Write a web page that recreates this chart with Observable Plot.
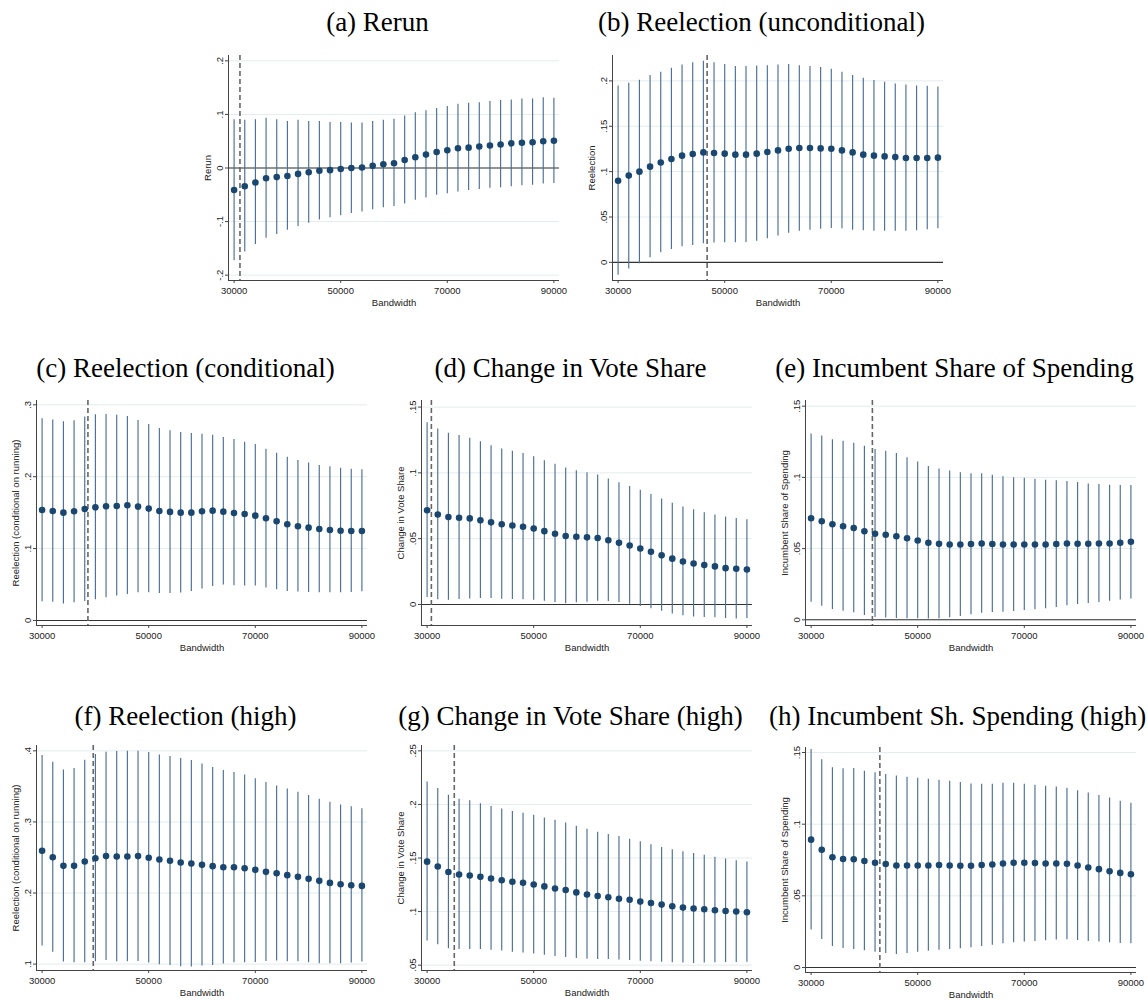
<!DOCTYPE html>
<html><head><meta charset="utf-8">
<script src="https://cdn.jsdelivr.net/npm/d3@7"></script>
<script src="https://cdn.jsdelivr.net/npm/@observablehq/plot@0.6"></script>
<style>
body{margin:0;background:#fff;width:1148px;height:1000px;position:relative;overflow:hidden;}
.panel{position:absolute;width:371px;}
.title{position:absolute;width:371px;font-family:"Liberation Serif","Times New Roman",serif;font-size:27px;text-align:center;height:30px;line-height:30px;color:#000;white-space:nowrap;}
</style></head><body>
<script>
// ---------- data ----------
const bandwidth = [30000,32000,34000,36000,38000,40000,42000,44000,46000,48000,50000,52000,54000,56000,58000,60000,62000,64000,66000,68000,70000,72000,74000,76000,78000,80000,82000,84000,86000,88000,90000];
const xTickValues = [30000, 50000, 70000, 90000];
const xAxisTitle = "Bandwidth";

const panelTitles = ["(a) Rerun","(b) Reelection (unconditional)","(c) Reelection (conditional)","(d) Change in Vote Share","(e) Incumbent Share of Spending","(f) Reelection (high)","(g) Change in Vote Share (high)","(h) Incumbent Sh. Spending (high)"];
const yAxisTitles = ["Rerun","Reelection","Reelection (conditional on running)","Change in Vote Share","Incumbent Share of Spending","Reelection (conditional on running)","Change in Vote Share","Incumbent Share of Spending"];
const optimalBandwidth = [31100, 46700, 38600, 30800, 41500, 39600, 35100, 42900];
const yTickValues = [
  [-0.2,-0.1,0,0.1,0.2],
  [0,0.05,0.1,0.15,0.2],
  [0,0.1,0.2,0.3],
  [0,0.05,0.1,0.15],
  [0,0.05,0.1,0.15],
  [0.1,0.2,0.3,0.4],
  [0.05,0.1,0.15,0.2,0.25],
  [0,0.05,0.1,0.15]
];

const rerunEst = [-0.041,-0.034,-0.027,-0.019,-0.017,-0.015,-0.011,-0.008,-0.005,-0.004,-0.002,0.000,0.001,0.004,0.007,0.009,0.015,0.020,0.025,0.030,0.033,0.037,0.038,0.040,0.042,0.044,0.046,0.047,0.048,0.050,0.051];
const rerunHi = [0.090,0.089,0.090,0.093,0.090,0.087,0.089,0.087,0.087,0.085,0.085,0.084,0.084,0.087,0.089,0.091,0.097,0.103,0.107,0.111,0.115,0.119,0.121,0.122,0.124,0.126,0.127,0.129,0.129,0.131,0.130];
const rerunLo = [-0.173,-0.157,-0.143,-0.131,-0.124,-0.116,-0.109,-0.103,-0.097,-0.093,-0.089,-0.085,-0.082,-0.078,-0.074,-0.072,-0.067,-0.060,-0.056,-0.051,-0.048,-0.045,-0.042,-0.040,-0.038,-0.037,-0.035,-0.033,-0.032,-0.030,-0.029];

const reelEst = [0.090,0.0956,0.100,0.1055,0.110,0.114,0.1176,0.1194,0.1212,0.1205,0.1198,0.1187,0.1187,0.1198,0.1216,0.1234,0.1253,0.126,0.126,0.1256,0.1253,0.1234,0.1212,0.1187,0.1176,0.1168,0.116,0.115,0.115,0.115,0.1154];
const reelHi = [0.1945,0.1974,0.2007,0.206,0.2095,0.214,0.2176,0.220,0.2216,0.220,0.218,0.216,0.2158,0.2165,0.2168,0.2176,0.218,0.2168,0.216,0.2147,0.2128,0.2095,0.2059,0.203,0.2004,0.1985,0.1967,0.1956,0.1945,0.1941,0.1934];
const reelLo = [-0.0143,-0.0073,-0.0015,0.0051,0.0106,0.0143,0.0172,0.0187,0.0205,0.0212,0.0216,0.0216,0.022,0.0234,0.026,0.029,0.0322,0.0344,0.0355,0.0366,0.0374,0.037,0.0355,0.0348,0.0344,0.0344,0.0344,0.0344,0.0348,0.0359,0.037];

const reelCondEst = [0.1537,0.1523,0.150,0.1519,0.1551,0.1575,0.1588,0.1593,0.1602,0.1584,0.1556,0.1523,0.151,0.150,0.150,0.1519,0.1528,0.1514,0.1496,0.1482,0.1458,0.1421,0.138,0.1338,0.131,0.1291,0.1273,0.1259,0.1249,0.1245,0.1245];
const reelCondHi = [0.2805,0.2787,0.2764,0.2778,0.2829,0.2861,0.2866,0.2856,0.2838,0.2782,0.2726,0.2671,0.2638,0.2615,0.2601,0.2592,0.2578,0.2545,0.2517,0.248,0.2448,0.2383,0.2327,0.2271,0.2225,0.2192,0.2155,0.2137,0.2118,0.2104,0.2095];
const reelCondLo = [0.026,0.0255,0.0228,0.0246,0.0265,0.0288,0.0316,0.0339,0.0362,0.0386,0.0386,0.0376,0.0376,0.0381,0.0404,0.0437,0.0474,0.0492,0.0483,0.0478,0.0478,0.045,0.0427,0.0404,0.0395,0.039,0.0386,0.0386,0.0386,0.039,0.040];

const voteEst = [0.0716,0.0684,0.0664,0.0659,0.0654,0.0639,0.0624,0.0609,0.0600,0.059,0.0577,0.0557,0.0537,0.052,0.0515,0.051,0.0505,0.0488,0.0468,0.0448,0.0425,0.040,0.0373,0.0348,0.0326,0.0311,0.0299,0.0289,0.0276,0.0271,0.0266];
const voteHi = [0.138,0.1333,0.1301,0.1284,0.1264,0.1236,0.1206,0.1182,0.1164,0.1147,0.1122,0.1092,0.1065,0.1037,0.1017,0.100,0.0983,0.0953,0.0925,0.0896,0.0868,0.0836,0.0801,0.0769,0.0741,0.0719,0.0697,0.0679,0.0664,0.0654,0.0644];
const voteLo = [0.0052,0.0035,0.0032,0.0037,0.0042,0.0045,0.0045,0.004,0.0037,0.0035,0.0032,0.0025,0.0015,0.0005,0.0012,0.0017,0.0025,0.0022,0.0015,0.0002,-0.0015,-0.0032,-0.0052,-0.0072,-0.0085,-0.0095,-0.010,-0.0102,-0.0107,-0.011,-0.0107];

const spendEst = [0.0713,0.0692,0.0671,0.0657,0.0645,0.0622,0.0604,0.0597,0.0587,0.0573,0.0557,0.0541,0.0534,0.0529,0.0529,0.0532,0.0536,0.0532,0.0529,0.0529,0.0529,0.0529,0.0529,0.0532,0.0536,0.0534,0.0534,0.0536,0.0536,0.0541,0.0548];
const spendHi = [0.1305,0.1291,0.1265,0.1254,0.124,0.1219,0.1196,0.1184,0.1168,0.1138,0.1108,0.1077,0.1059,0.1045,0.1033,0.1026,0.1026,0.1015,0.1005,0.0998,0.0994,0.0987,0.098,0.0977,0.0971,0.0964,0.0954,0.095,0.0945,0.0943,0.0943];
const spendLo = [0.0123,0.0095,0.0072,0.006,0.0049,0.003,0.0016,0.0012,0.0009,0.0007,0.0007,0.0005,0.0007,0.0014,0.0023,0.0035,0.0046,0.0051,0.0053,0.0058,0.0065,0.007,0.0077,0.0086,0.0098,0.0107,0.0114,0.0121,0.013,0.0139,0.0146];

const reelHighEst = [0.2594,0.2504,0.2382,0.2382,0.2443,0.249,0.2519,0.2514,0.2514,0.2519,0.2495,0.2472,0.2453,0.2429,0.2415,0.2396,0.2378,0.2363,0.2363,0.2349,0.2326,0.2298,0.2279,0.2251,0.2227,0.2199,0.2171,0.2142,0.2124,0.211,0.21];
const reelHighHi = [0.3934,0.384,0.3732,0.375,0.3868,0.3948,0.3981,0.399,0.3995,0.3995,0.3976,0.3943,0.392,0.3891,0.3863,0.3816,0.3764,0.3722,0.3694,0.3661,0.3609,0.3553,0.3506,0.3464,0.3417,0.337,0.3318,0.3276,0.3238,0.3214,0.3186];
const reelHighLo = [0.1254,0.1165,0.1028,0.1019,0.1019,0.1033,0.1052,0.1033,0.1033,0.1038,0.1014,0.0991,0.0981,0.0962,0.0958,0.0972,0.0981,0.100,0.1019,0.1019,0.1024,0.1038,0.1042,0.1033,0.1033,0.1019,0.1005,0.1005,0.1005,0.1014,0.1028];

const voteHighEst = [0.1466,0.142,0.137,0.1346,0.1336,0.1324,0.1309,0.1293,0.1278,0.1269,0.1253,0.1235,0.1216,0.1201,0.1179,0.116,0.1145,0.1133,0.112,0.1111,0.1093,0.108,0.1065,0.1049,0.1037,0.1028,0.1022,0.1012,0.1006,0.100,0.0994];
const voteHighHi = [0.221,0.2148,0.2086,0.2049,0.2034,0.2006,0.1981,0.1957,0.1935,0.1917,0.1898,0.1873,0.1852,0.1827,0.1796,0.1769,0.1741,0.1719,0.1701,0.1676,0.1651,0.1623,0.1599,0.1577,0.1559,0.1543,0.1525,0.1506,0.1491,0.1475,0.1463];
const voteHighLo = [0.0725,0.0691,0.0654,0.0645,0.0645,0.0645,0.0639,0.0633,0.062,0.0614,0.0605,0.0593,0.058,0.0571,0.0562,0.0556,0.0552,0.0552,0.0549,0.0543,0.0537,0.0531,0.0528,0.0522,0.0519,0.0515,0.0519,0.0522,0.0525,0.0525,0.0528];

const spendHighEst = [0.0892,0.0821,0.0769,0.0757,0.0755,0.0743,0.0731,0.0722,0.0712,0.0712,0.0712,0.0712,0.0715,0.0712,0.071,0.071,0.0715,0.0719,0.0726,0.0731,0.0731,0.0729,0.0726,0.0726,0.0724,0.0712,0.0698,0.0686,0.0672,0.066,0.0651];
const spendHighHi = [0.1521,0.145,0.1394,0.1387,0.1389,0.137,0.1358,0.1347,0.1337,0.1328,0.1321,0.1314,0.1307,0.130,0.129,0.1281,0.1278,0.1278,0.1285,0.1285,0.1278,0.1271,0.1264,0.1259,0.125,0.1233,0.1217,0.120,0.1182,0.116,0.1146];
const spendHighLo = [0.0262,0.0196,0.0146,0.0132,0.0125,0.0116,0.0106,0.0097,0.009,0.0097,0.0106,0.0113,0.012,0.0125,0.013,0.0137,0.0146,0.0156,0.0165,0.0172,0.0177,0.0182,0.0186,0.0191,0.0193,0.0189,0.0182,0.0177,0.0172,0.0167,0.0165];

// ---------- scale / layout settings ----------
const xDomain = [28950, 91050];
const yDomains = [[-0.21,0.21],[-0.02,0.228],[-0.007,0.306],[-0.016,0.155],[-0.004,0.154],[0.091,0.4075],[0.045,0.255],[-0.0035,0.1535]];
const series = [
  [rerunEst, rerunLo, rerunHi],
  [reelEst, reelLo, reelHi],
  [reelCondEst, reelCondLo, reelCondHi],
  [voteEst, voteLo, voteHi],
  [spendEst, spendLo, spendHi],
  [reelHighEst, reelHighLo, reelHighHi],
  [voteHighEst, voteHighLo, voteHighHi],
  [spendHighEst, spendHighLo, spendHighHi]
];
const layout = [
  {left:192, top:50, titleTop:7},
  {left:576, top:50, titleTop:7},
  {left:0, top:395, titleTop:353},
  {left:385, top:395, titleTop:353},
  {left:769, top:395, titleTop:353},
  {left:0, top:740, titleTop:701},
  {left:385, top:740, titleTop:701},
  {left:769, top:742, titleTop:701}
];

function stataFmt(v) {
  const s = d3.format("~g")(+v.toFixed(4)).replace("\u2212", "-");
  return s.replace(/^(-?)0\./, "$1.");
}

function makePanel(i) {
  const [est, lo, hi] = series[i];
  const data = bandwidth.map((b, j) => ({b, est: est[j], lo: lo[j], hi: hi[j]}));
  const dom = yDomains[i];
  const ticks = yTickValues[i];
  const marks = [
    Plot.ruleY(ticks, {stroke: "#e3ecee", strokeWidth: 1})
  ];
  if (dom[0] < 0 && dom[1] > 0) marks.push(Plot.ruleY([0], {stroke: "#333", strokeWidth: 1.1}));
  marks.push(
    Plot.ruleX(data, {x: "b", y1: "lo", y2: "hi", stroke: "#4b7094", strokeWidth: 1.15}),
    Plot.ruleX([optimalBandwidth[i]], {stroke: "#666", strokeWidth: 1.6, strokeDasharray: "5,3"}),
    Plot.dot(data, {x: "b", y: "est", r: 3.3, fill: "#1a476f", stroke: "none"}),
    Plot.ruleX([xDomain[0]], {stroke: "#444", strokeWidth: 1}),
    Plot.ruleY([dom[0]], {stroke: "#444", strokeWidth: 1}),
    Plot.axisX({ticks: xTickValues, tickSize: 3, tickPadding: 4, tickFormat: d => String(d), label: null, stroke: "#444"}),
    Plot.axisY({ticks: ticks, tickSize: 3, tickPadding: 3, tickRotate: -90, tickFormat: stataFmt, label: null, stroke: "#444"}),
    Plot.text([yAxisTitles[i]], {frameAnchor: "left", dx: -21, rotate: -90, textAnchor: "middle", lineAnchor: "middle", text: d => d, fill: "#222"}),
    Plot.text([xAxisTitle], {frameAnchor: "bottom", dy: 22, textAnchor: "middle", lineAnchor: "middle", text: d => d, fill: "#222"})
  );
  return Plot.plot({
    width: 371, height: 270,
    marginLeft: 36, marginRight: 4, marginTop: 5, marginBottom: 40,
    x: {domain: xDomain},
    y: {domain: dom},
    style: {fontFamily: "'Liberation Sans', Arial, sans-serif", fontSize: "9.5px", background: "white", color: "#222", overflow: "visible"},
    marks
  });
}

for (let i = 0; i < 8; i++) {
  const L = layout[i];
  const t = document.createElement("div");
  t.className = "title";
  t.style.left = L.left + "px";
  t.style.top = L.titleTop + "px";
  t.textContent = panelTitles[i];
  document.body.appendChild(t);
  const p = document.createElement("div");
  p.className = "panel";
  p.style.left = L.left + "px";
  p.style.top = L.top + "px";
  p.appendChild(makePanel(i));
  document.body.appendChild(p);
}
</script>
</body></html>
